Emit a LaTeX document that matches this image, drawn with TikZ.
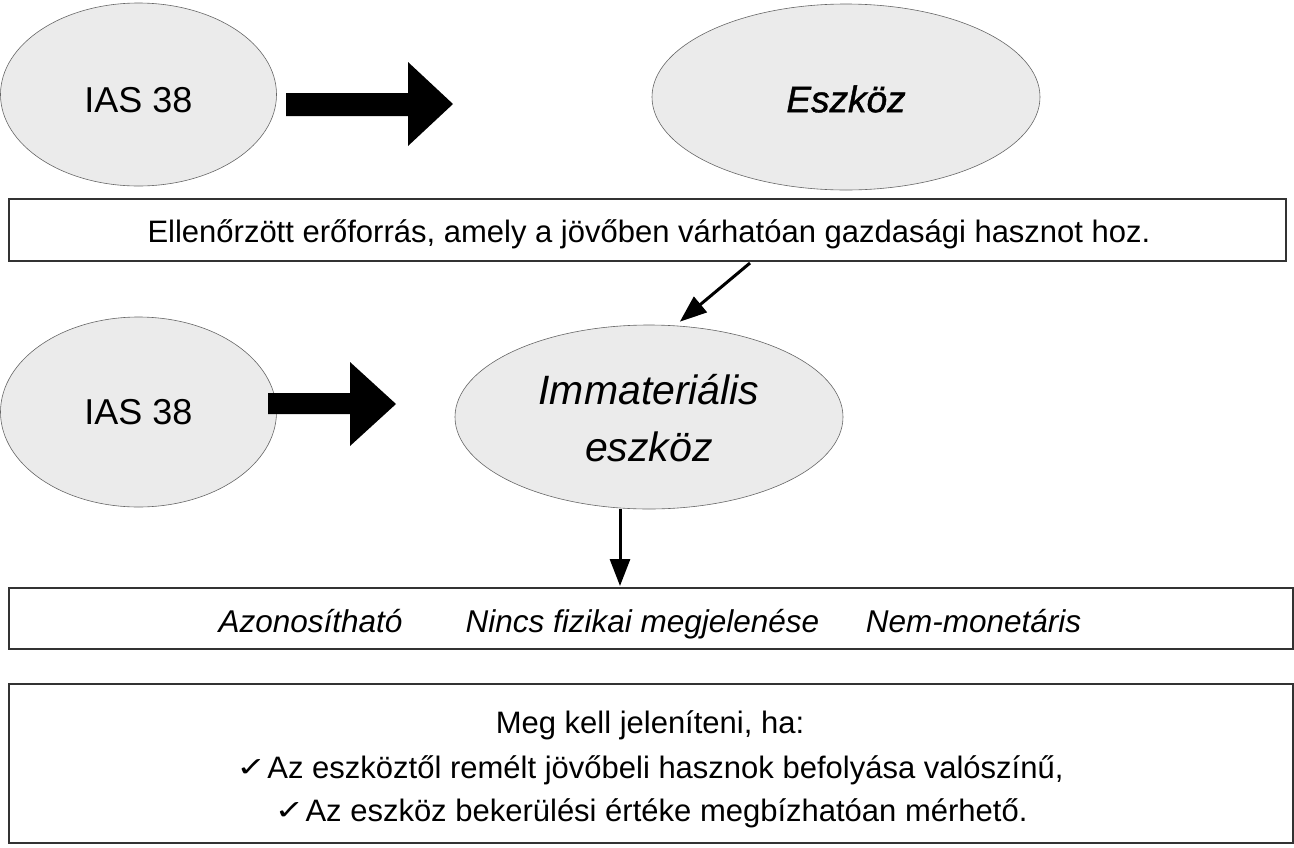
\documentclass[tikz,border=0pt]{standalone}
\usepackage{fontspec}
\setmainfont{Liberation Sans}
\newfontfamily\semibit[FakeBold=1.2]{Liberation Sans}
\newfontfamily\symfont{DejaVu Sans}
\usetikzlibrary{shapes.geometric,arrows.meta}
\tikzset{
  oval/.style={ellipse, draw=black!60, line width=0.6pt, fill=black!8, inner sep=0pt, align=center},
  textbox/.style={draw=black!80, line width=1.2pt},
  blockarrow/.style={fill=black, draw=none},
  thinarrow/.style={line width=3pt, -{Triangle[length=27pt,width=20pt]}},
  body/.style={font=\fontsize{31}{36}\selectfont, anchor=base, inner sep=0pt},
  bodyit/.style={font=\fontsize{31.5}{36}\selectfont\itshape, anchor=base, inner sep=0pt},
}
\newcommand{\chk}{\raisebox{2pt}{\resizebox{30pt}{17pt}{\symfont ✓}}\hspace{1pt}}
\newcommand{\shiftdown}[2]{\raisebox{-#1}[\height][\depth]{#2}}
\begin{document}
\begin{tikzpicture}[x=1pt,y=-1pt]
\useasboundingbox (0,0) rectangle (1294,847);
% top row
\node[oval, minimum width=276pt, minimum height=183pt, font=\fontsize{36}{42}\selectfont] (ias1) at (138.5,94.5) {\shiftdown{6pt}{IAS 38}};
\node[oval, minimum width=388pt, minimum height=186pt, font=\fontsize{37}{42}\semibit\itshape] (eszkoz) at (846,97) {\shiftdown{2pt}{Eszköz}};
\fill[blockarrow] (286,93) -- (408,93) -- (408,62) -- (453,104) -- (408,146) -- (408,116) -- (286,116) -- cycle;
% box 1
\draw[textbox] (9,199) rectangle (1286,261);
\node[body] (def) at (649,242) {Ellenőrzött erőforrás, amely a jövőben várhatóan gazdasági hasznot hoz.};
\coordinate (b1s) at (750,263);
% second row
\node[oval, minimum width=276pt, minimum height=190pt, font=\fontsize{36}{42}\selectfont] (ias2) at (138.5,412) {IAS 38};
\node[oval, minimum width=388pt, minimum height=184pt, font=\fontsize{41}{55}\selectfont\itshape] (imm) at (649,417) {\shiftdown{5pt}{\begin{tabular}{@{}c@{}}Immateriális\\[2pt]eszköz\end{tabular}}};
\fill[blockarrow] (268,393) -- (350,393) -- (350,362) -- (396,404) -- (350,446) -- (350,414) -- (268,414) -- cycle;
\draw[thinarrow, shorten >=6pt] (b1s) -- (imm.74);
% box 2
\draw[textbox] (9,588) rectangle (1293,649);
\coordinate (b2t) at (620,586);
\draw[thinarrow] (imm.south -| b2t) -- (b2t);
\node[bodyit] (azon) at (310.5,632) {Azonosítható};
\node[bodyit] (nincs) at (642.5,632) {Nincs fizikai megjelenése};
\node[bodyit] (nem) at (973.5,632) {Nem-monetáris};
% box 3
\draw[textbox] (9,684) rectangle (1293,843);
\node[body] (meg) at (650,733) {Meg kell jeleníteni, ha:};
\node[body] (c1) at (650,778) {\chk Az eszköztől remélt jövőbeli hasznok befolyása valószínű,};
\node[body] (c2) at (651,821) {\chk Az eszköz bekerülési értéke megbízhatóan mérhető.};
\end{tikzpicture}
\end{document}
